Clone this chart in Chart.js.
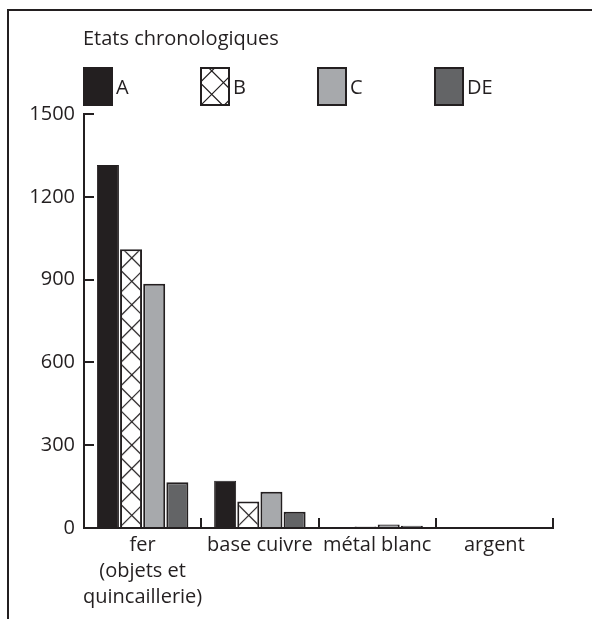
<!DOCTYPE html>
<html>
<head>
<meta charset="utf-8">
<script src="https://cdn.jsdelivr.net/npm/chart.js@4.4.1/dist/chart.umd.min.js"></script>
<style>
  html, body { margin: 0; padding: 0; background: #fff; }
  #wrap { position: relative; width: 592px; height: 619px; }
</style>
</head>
<body>
<div id="wrap"><canvas id="chart"></canvas></div>
<script>
// data
const categories = [['fer', '(objets et', 'quincaillerie)'], 'base cuivre', 'métal blanc', 'argent'];
const seriesNames = ['A', 'B', 'C', 'DE'];
const valuesA = [1315, 171, 2, 0];
const valuesB = [1010, 96, 5, 0];
const valuesC = [885, 131, 13, 0];
const valuesDE = [166, 59, 8, 0];
const yTicks = [0, 300, 600, 900, 1200, 1500];
const legendTitle = 'Etats chronologiques';

const ink = '#231f20';
const fontFamily = "'Open Sans', sans-serif";
const fontSize = 20;

// diamond cross-hatch used for state B
function makeCrossPattern(size, step) {
  const c = document.createElement('canvas');
  c.width = size;
  c.height = size;
  const g = c.getContext('2d');
  g.fillStyle = '#fff';
  g.fillRect(0, 0, size, size);
  g.strokeStyle = ink;
  g.lineWidth = 1.2;
  g.beginPath();
  for (let k = -size; k <= 2 * size + 0.1; k += step) {
    g.moveTo(k, 0); g.lineTo(k + size, size);
    g.moveTo(k, 0); g.lineTo(k - size, size);
  }
  g.stroke();
  return g.createPattern(c, 'repeat');
}

const barPattern = makeCrossPattern(117, 23.4);
const legendPattern = makeCrossPattern(117, 23.4);

const fills = [ink, barPattern, '#a7a9ac', '#636466'];
const series = [valuesA, valuesB, valuesC, valuesDE];

const datasets = series.map((vals, i) => ({
  label: seriesNames[i],
  data: vals,
  backgroundColor: fills[i],
  borderColor: ink,
  borderWidth: i === 0 ? 1 : 2,
  barPercentage: 0.95,
  categoryPercentage: 0.79
}));

// keep the hatch aligned with the B bars
const patternAlign = {
  id: 'patternAlign',
  beforeDatasetsDraw(chart) {
    const bar = chart.getDatasetMeta(1).data[0];
    if (!bar) return;
    const left = bar.x - bar.width / 2;
    barPattern.setTransform(new DOMMatrix().translate(left, bar.base));
  }
};

// title, legend boxes and the frame lines
const stateLegend = {
  id: 'stateLegend',
  afterDraw(chart) {
    const ctx = chart.ctx;
    ctx.save();
    ctx.strokeStyle = ink;
    ctx.lineWidth = 2;
    ctx.beginPath();
    ctx.moveTo(8, chart.height);
    ctx.lineTo(8, 10);
    ctx.lineTo(chart.width, 10);
    ctx.stroke();

    ctx.fillStyle = ink;
    ctx.font = fontSize + 'px ' + fontFamily;
    ctx.textAlign = 'left';
    ctx.textBaseline = 'alphabetic';
    ctx.fillText(legendTitle, 83, 45);

    chart.data.datasets.forEach((ds, i) => {
      const x = 83 + i * 117, y = 67, w = 30, h = 39;
      let fill = ds.backgroundColor;
      if (i === 1) {
        legendPattern.setTransform(new DOMMatrix().translate(x, y + h));
        fill = legendPattern;
      }
      ctx.fillStyle = fill;
      ctx.fillRect(x, y, w, h);
      ctx.strokeStyle = ink;
      ctx.lineWidth = 2;
      ctx.strokeRect(x + 1, y + 1, w - 2, h - 2);
      ctx.fillStyle = ink;
      ctx.textBaseline = 'middle';
      ctx.fillText(ds.label, x + w + 3, 88);
    });
    ctx.restore();
  }
};

Chart.defaults.font.family = fontFamily;
Chart.defaults.font.size = fontSize;
Chart.defaults.color = ink;

const ctx = document.getElementById('chart').getContext('2d');
new Chart(ctx, {
  type: 'bar',
  data: { labels: categories, datasets: datasets },
  options: {
    responsive: true,
    maintainAspectRatio: false,
    animation: false,
    layout: { padding: { top: 114, right: 39, bottom: 0, left: 0 } },
    plugins: {
      legend: { display: false },
      tooltip: { enabled: false }
    },
    scales: {
      x: {
        grid: { drawOnChartArea: false, offset: true, tickLength: -10, color: ink, lineWidth: 2 },
        border: { color: ink, width: 2 },
        ticks: {
          color: ink,
          font: { size: fontSize, lineHeight: 1.3 },
          padding: 14,
          maxRotation: 0,
          autoSkip: false
        },
        afterFit(scale) { scale.height = 91; }
      },
      y: {
        min: 0,
        max: 1500,
        afterBuildTicks(scale) { scale.ticks = yTicks.map(v => ({ value: v })); },
        grid: { drawOnChartArea: false, tickLength: -10, color: ink, lineWidth: 2 },
        border: { color: ink, width: 2 },
        ticks: {
          color: ink,
          font: { size: fontSize },
          padding: 19,
          callback: (v) => String(v)
        },
        afterFit(scale) { scale.width = 84; }
      }
    }
  },
  plugins: [patternAlign, stateLegend]
});
</script>
</body>
</html>
